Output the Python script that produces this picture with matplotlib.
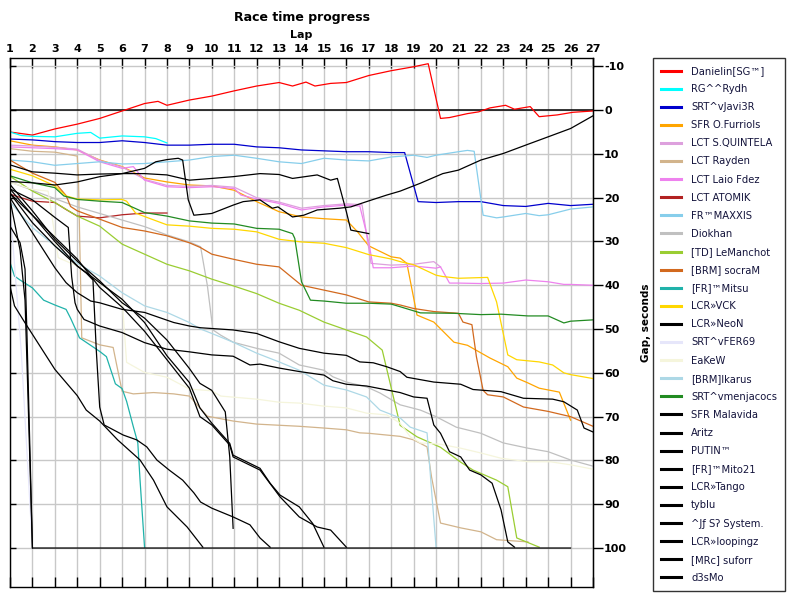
import matplotlib
matplotlib.use("Agg")
import matplotlib.pyplot as plt

# axes values
lap_ticks = list(range(1, 28))
gap_ticks = list(range(-10, 101, 10))

# gap to leader (seconds) per lap
danielin_laps = [1, 2, 3, 4, 5, 6, 7, 7.6, 8, 9, 10, 11, 12, 13, 13.6, 14.2, 14.6, 15.3, 16, 17, 18, 19, 19.65,
                 20.2, 20.6, 21.4, 21.9, 22.4, 23.1, 23.5, 24.2, 24.6, 25.4, 26.1, 27]
danielin_gap = [5, 5.7, 4.3, 3.2, 1.9, 0.2, -1.5, -2.0, -1.1, -2.3, -3.2, -4.4, -5.5, -6.3, -5.5, -6.4, -5.5, -6.1,
                -6.3, -7.9, -9.0, -9.9, -10.6, 1.9, 1.7, 0.8, 0.4, -0.5, -1.1, -0.2, -0.8, 1.5, 1.1, 0.5, 0.2]

rydh_laps = [1, 1.5, 2, 3, 4, 4.6, 5, 6, 7, 7.5, 8]
rydh_gap = [5, 5.8, 6, 6.1, 5.3, 5.1, 6.4, 5.9, 6.1, 6.5, 7.5]

javi_laps = [1, 2, 3, 4, 5, 6, 7, 8, 9, 10, 11, 12, 13, 14, 15, 16, 17, 18, 18.6, 19.2, 20, 21, 22, 23, 24, 25,
             26, 27]
javi_gap = [6.6, 6.8, 7.2, 7.4, 7.4, 7.0, 7.4, 8.0, 8.0, 7.8, 7.8, 8.4, 8.6, 9.1, 9.3, 9.5, 9.5, 9.7, 9.7, 20.9,
            21.1, 20.9, 20.9, 21.8, 22.0, 21.3, 21.8, 21.5]

furriols_laps = [1, 2, 3, 4, 5, 6, 7, 8, 9, 10, 11, 12, 13, 14, 15, 16, 16.5, 17, 18, 18.4, 18.7, 19.15, 19.9,
                 20.8, 21.4, 22.4, 23.2, 23.6, 24.1, 24.6, 25.5, 26]
furriols_gap = [7, 8, 8.4, 9.1, 11.4, 12.9, 15.5, 16.4, 17.1, 17.3, 18.3, 20.9, 23.2, 24.4, 24.8, 25.1, 27.8, 31,
                33.5, 33.8, 35, 46.8, 48.4, 53, 53.7, 56.6, 58.6, 61.2, 62.3, 63.5, 64.4, 70.8]

quintela_laps = [1, 2, 3, 4, 5, 6, 7, 8, 9, 10, 11, 12, 13, 14, 15, 16, 16.7, 17.1, 18, 19, 19.9, 20.2]
quintela_gap = [8.0, 8.2, 8.5, 8.9, 11.5, 13.0, 15.8, 17.2, 17.4, 17.2, 17.6, 20.0, 21.0, 22.4, 21.8, 21.4, 21.6,
                35.0, 35.4, 35.2, 34.6, 35.8]

rayden_laps = [1, 2, 3, 4, 4.05, 4.2, 5, 5.6, 5.75, 6, 6.5, 7.4, 8.3, 9, 9.8, 10.95, 12, 13.9, 15, 16, 16.6, 17,
               18.4, 19, 19.6, 19.8, 20.2, 21.1, 22, 22.7, 24.1]
rayden_gap = [8.8, 9.4, 9.6, 10.5, 15, 52, 53.6, 54.2, 58, 64.2, 64.8, 64.5, 64.8, 65.3, 69.9, 71, 71.7, 72.2,
              72.6, 73, 73.7, 73.8, 74.5, 75.3, 76.9, 83.8, 94.3, 95.4, 96.3, 98.1, 98.6]

laio_laps = [1, 2, 3, 4, 5, 6, 6.5, 7, 8, 9, 10, 11, 11.3, 12, 13, 14, 15, 16, 16.6, 17, 17.2, 18, 19, 20, 20.2,
             20.6, 21, 22, 23, 24, 25, 25.7, 26, 27]
laio_gap = [8.4, 8.6, 8.8, 9.1, 11.8, 13.3, 12.9, 16, 17.5, 17.7, 17.5, 17.9, 19.4, 20.3, 21.3, 22.8, 22.1, 21.7,
            21.9, 30.2, 36, 36, 35.6, 36.1, 35.8, 39.5, 39.5, 39.6, 39.5, 38.8, 39.2, 39.8, 39.8, 40]

atomik_laps = [1, 2, 3, 3.5, 4, 5, 6, 7, 8]
atomik_gap = [19.2, 20.8, 21.1, 22.7, 24.2, 24.6, 23.9, 23.5, 23.5]

maxxis_laps = [1, 2, 3, 4, 5, 6, 7, 8, 9, 10, 11, 12, 13, 14, 15, 16, 17, 18, 19, 19.6, 20, 21, 21.4, 21.7, 22.1,
               22.7, 23, 24, 24.6, 25, 26, 27]
maxxis_gap = [11.4, 11.8, 12.6, 12.2, 11.8, 12.3, 12.2, 11.8, 11.4, 10.6, 10.3, 11, 11.8, 12.2, 11, 11.4, 11.6,
              10.7, 10.3, 10.8, 10.3, 9.5, 9.2, 9.4, 24, 24.6, 24.4, 23.6, 24.1, 23.9, 22.6, 22.1]

diokhan_laps = [1, 2, 3, 4, 5, 6, 7, 8, 9, 9.5, 9.8, 10.05, 10.4, 10.95, 12, 13, 13.9, 15, 15.4, 16, 16.9, 17.5,
                18.4, 19.3, 20, 20.9, 22, 23, 24.1, 25, 26, 27]
diokhan_gap = [16.4, 18.3, 20.2, 22.1, 23.6, 25.1, 26.6, 28.5, 30.1, 31.2, 40, 50.2, 51.4, 53, 54.4, 55.5, 58.2,
               59.4, 60.9, 62.1, 63.2, 64.6, 67.3, 68.5, 70, 72.4, 73.8, 76, 77.2, 78, 79.9, 81.3]

lemanchot_laps = [1, 2, 3, 4, 5, 6, 7, 8, 9, 10, 11, 12, 13, 13.9, 15, 16, 16.9, 17.6, 18.4, 19.15, 20.2, 21.1,
                  21.65, 22.7, 23.2, 23.6, 24.6]
lemanchot_gap = [15.1, 18.5, 21.1, 24.2, 26.5, 30.6, 32.9, 35.2, 36.7, 38.6, 40.2, 41.9, 44.1, 45.7, 48.4, 50.2,
                 51.8, 54.8, 72, 74.6, 77, 80.4, 82.2, 84.5, 86, 97.7, 99.8]

socram_laps = [1, 2, 3, 3.5, 3.7, 4, 5, 6, 7, 8, 9, 9.5, 10, 11, 12, 13, 14, 15, 16, 17, 18, 18.4, 19, 19.9, 21,
               21.2, 21.6, 21.8, 22.1, 22.3, 23, 23.9, 25, 26, 27]
socram_gap = [11.4, 14.4, 16.5, 19.5, 22, 23, 24.9, 26.8, 27.6, 28.7, 30.3, 31.4, 32.9, 34.1, 35.2, 35.8, 40, 41.1,
              42.2, 43.8, 44.1, 44.5, 45.3, 46, 46.4, 48.4, 49, 56.3, 64, 65, 65.5, 67.8, 68.8, 70, 72.2]

mitsu_laps = [1, 1.2, 1.45, 2, 2.5, 3, 3.5, 3.7, 4.1, 5, 5.3, 5.7, 6, 6.2, 6.5, 6.7, 6.8, 7.0]
mitsu_gap = [34.8, 37.9, 38.8, 40.6, 43.4, 44.5, 45.5, 47.5, 52, 55.1, 56.3, 62.5, 63.6, 66.5, 72.3, 76, 84.5, 99.8]

vck_laps = [1, 2, 3, 3.5, 4, 5, 6, 6.2, 6.6, 7, 8, 9, 10, 11, 12, 13, 14, 15, 16, 17, 18, 18.4, 19, 20, 20.3, 21,
            22.3, 22.7, 23.2, 23.6, 24.6, 25.2, 25.7, 26, 27]
vck_gap = [13.5, 15, 17.3, 19.6, 20.3, 20.5, 20.4, 20.8, 23.5, 24.3, 26.2, 26.5, 27, 27.2, 27.8, 29.5, 30.1, 30.4,
           31.4, 33, 34, 34.6, 35.3, 37.7, 38, 38.4, 38.2, 43.8, 55.9, 57, 57.5, 58.2, 60, 60.4, 61.3]

neon_laps = [1, 2, 3, 4, 5, 6, 7, 8, 9, 10, 10.95, 12.15, 13, 13.6, 14.7, 15.3, 15.6, 16, 16.2, 17]
neon_gap = [12.5, 14.1, 14.4, 14.8, 14.6, 14.5, 14.5, 14.8, 16, 15.6, 15.2, 14.5, 14.7, 15.6, 14.8, 16, 15.6, 23.2,
            27.4, 28.2]

fer69_laps = [1, 1.5, 2]
fer69_gap = [22, 55, 100]

eakew_laps = [1, 2, 2.7, 3.15, 4, 5, 6, 6.2, 7, 8, 9, 10, 10.4, 12, 13, 13.9, 15, 16, 16.9, 17.8, 18.4, 18.85, 19.3,
              20.2, 21.1, 22, 22.9, 24.1, 25.1, 26, 27]
eakew_gap = [16.5, 18.1, 18.5, 33.7, 35.6, 39.5, 43.2, 57.6, 59.9, 61, 63.7, 64.1, 65.3, 66, 66.7, 66.9, 67.6, 68,
             69.2, 69.6, 71.5, 74.6, 76, 76.3, 77.2, 78.3, 79.5, 80.3, 80.3, 81, 82]

ikarus_laps = [1, 2, 3, 4, 5, 6, 7, 8, 9, 9.5, 10, 10.95, 12, 13, 13.9, 15, 16, 16.9, 17.5, 18.4, 18.85, 19.6, 19.8,
               20]
ikarus_gap = [21, 26.8, 31, 35, 37.9, 41.7, 44.7, 46.2, 48.5, 50, 51, 53, 55.5, 57.5, 59.4, 62.8, 63.9, 65.5, 68.5,
              70.3, 72.4, 73.7, 86.8, 99.8]

menjacocs_laps = [1, 2, 3, 3.4, 4, 5, 6, 7, 8, 9, 10, 11, 12, 13, 13.6, 13.7, 14, 14.4, 15, 16, 17, 18, 18.4, 19.3,
                  20.8, 22, 22.9, 24.1, 25, 25.7, 26, 27]
menjacocs_gap = [15, 16.6, 17.7, 19.6, 20.4, 20.8, 21.1, 23.4, 24.2, 25.3, 25.8, 26, 27, 27.2, 28.2, 29.3, 39.2,
                 43.4, 43.6, 44.1, 44.1, 44.3, 44.9, 46.3, 46.4, 46.7, 46.6, 47, 47, 48.6, 48.2, 47.9]

malavida_laps = [1, 2, 3, 4, 5, 6, 7, 7.5, 8, 8.5, 8.7, 8.95, 9.2, 10, 10.4, 10.95, 11.4, 12.15, 12.7, 12.95, 13.6,
                 14.1, 14.7, 15.7, 16.2, 16.9, 17.8, 18.4, 19.3, 20.3, 21, 22, 23, 24.1, 25, 26, 27]
malavida_gap = [16.3, 16.6, 17.1, 16.4, 15.2, 14.5, 13.3, 11.8, 11.3, 11, 11.4, 20.5, 24, 23.6, 22.8, 21.7, 20.9,
                20.5, 22.4, 22.1, 24.4, 24, 22.8, 22.4, 22.1, 20.9, 19.4, 18.5, 16.7, 14.5, 13.7, 11.4, 9.9, 7.8,
                6.1, 4.2, 1.3]

aritz_laps = [1, 2, 3, 3.5, 4, 4.6, 5, 6, 7, 8.3, 9, 9.5, 10.95, 12, 13, 13.9, 15, 16, 16.6, 17.2, 17.8, 18.4,
              18.7, 19.9, 21.1, 21.65, 22.9, 23.9, 25.2, 25.7, 26.3, 26.6, 27]
aritz_gap = [20, 28, 36, 39.4, 41.7, 43.6, 44, 45.5, 46.2, 48.5, 49.3, 49.7, 50.2, 51, 52.9, 54.4, 55.5, 56, 57.5,
             57.7, 58.6, 59.7, 61, 62.1, 62.6, 63.8, 64.3, 65.8, 66, 66.6, 68.5, 72.6, 73.5]

putin_laps = [1, 2, 3, 3.6, 3.75, 3.9, 4, 4.3, 5, 6, 7, 8, 9, 10, 10.95, 11.7, 12.15, 13, 13.9, 15, 15.4, 16, 16.9,
              17.8, 18.4, 19, 19.6, 19.9, 20.2, 20.6, 21.1, 21.5, 22, 22.5, 22.9, 23.2, 23.5]
putin_gap = [18, 20.5, 24.5, 26.8, 38, 44, 45.5, 47.8, 49.3, 50.8, 53.1, 54.6, 55.2, 55.9, 56.2, 58.2, 58, 58.9,
             59.7, 60.5, 61.8, 62.6, 63, 63.9, 64.5, 65.5, 65.8, 71.9, 73.8, 78, 79.2, 82.2, 83.3, 85.2, 91.3,
             98.6, 99.8]

mito_laps = [1, 2, 3, 4, 5, 6, 7, 8, 9, 9.47, 10, 10.6, 10.8, 10.95]
mito_gap = [17, 23, 29.5, 34.5, 39, 44, 47.5, 52.5, 59, 62.4, 64, 68.9, 79.2, 95.5]

tango_laps = [1, 2, 3, 4, 5, 6, 7, 8, 9, 9.47, 10, 10.8, 10.95, 12.15, 12.6, 13.04, 13.9, 14.5, 15]
tango_gap = [19, 25.7, 31, 35.6, 39.4, 43.2, 48.5, 56.1, 62.2, 68, 71.5, 76.1, 78.8, 81.8, 85.2, 87.9, 90.6, 94.4,
             99.8]

tyblu_laps = [1, 2, 3, 4, 5, 6, 7, 8, 9, 9.47, 10, 10.8, 10.95, 12.15, 13.04, 13.9, 14.7, 15.3, 16]
tyblu_gap = [18, 24, 29, 34, 40.5, 45, 50.5, 57, 63.5, 70, 71.9, 76.5, 79.2, 82.2, 88.3, 92.9, 95.2, 95.9, 99.8]

system_laps = [1, 2, 3, 4, 4.4, 4.7, 4.85, 5.0, 5.2, 6.05, 6.65, 7.1, 7.55, 8.1, 8.7, 9.2, 9.5, 10, 10.95, 11.7,
               12.15, 12.6]
system_gap = [19, 24, 30, 35.6, 37.2, 38.8, 55, 67.8, 71.9, 74.2, 75.3, 76.9, 79.9, 82.2, 84.5, 87.4, 89.5, 90.9,
              92.9, 94.7, 97.7, 99.8]

loopingz_laps = [1, 1.2, 1.66, 2.05, 3, 4, 4.4, 5, 5.8, 6.8, 7.4, 8, 8.9, 9.6]
loopingz_gap = [40.2, 44.7, 48.5, 51.6, 59.2, 65.2, 68.5, 71, 75.3, 79.9, 84.5, 90.6, 95.2, 99.8]

suforr_laps = [1, 1.45, 1.67, 1.75, 1.9, 2]
suforr_gap = [26.5, 30.3, 36.3, 50, 80, 100]

d3smo_laps = [1, 1.45, 1.67, 1.8, 2, 26]
d3smo_gap = [20.5, 32, 43.4, 65, 100, 100]

series = [
    ("Danielin[SG™]", "#ff0000", danielin_laps, danielin_gap),
    ("RG^^Rydh", "#00ffff", rydh_laps, rydh_gap),
    ("SRT^vJavi3R", "#0000cd", javi_laps, javi_gap),
    ("SFR O.Furriols", "#ffa500", furriols_laps, furriols_gap),
    ("LCT S.QUINTELA", "#dda0dd", quintela_laps, quintela_gap),
    ("LCT Rayden", "#d2b48c", rayden_laps, rayden_gap),
    ("LCT Laio Fdez", "#ee82ee", laio_laps, laio_gap),
    ("LCT ATOMIK", "#b22222", atomik_laps, atomik_gap),
    ("FR™MAXXIS", "#87ceeb", maxxis_laps, maxxis_gap),
    ("Diokhan", "#c0c0c0", diokhan_laps, diokhan_gap),
    ("[TD] LeManchot", "#9acd32", lemanchot_laps, lemanchot_gap),
    ("[BRM] socraM", "#d2691e", socram_laps, socram_gap),
    ("[FR]™Mitsu", "#20b2aa", mitsu_laps, mitsu_gap),
    ("LCR»VCK", "#ffd700", vck_laps, vck_gap),
    ("LCR»NeoN", "#000000", neon_laps, neon_gap),
    ("SRT^vFER69", "#e6e6fa", fer69_laps, fer69_gap),
    ("EaKeW", "#f5f5dc", eakew_laps, eakew_gap),
    ("[BRM]Ikarus", "#add8e6", ikarus_laps, ikarus_gap),
    ("SRT^vmenjacocs", "#228b22", menjacocs_laps, menjacocs_gap),
    ("SFR Malavida", "#000000", malavida_laps, malavida_gap),
    ("Aritz", "#000000", aritz_laps, aritz_gap),
    ("PUTIN™", "#000000", putin_laps, putin_gap),
    ("[FR]™Mito21", "#000000", mito_laps, mito_gap),
    ("LCR»Tango", "#000000", tango_laps, tango_gap),
    ("tyblu", "#000000", tyblu_laps, tyblu_gap),
    ("^Jƒ Sʔ System.", "#000000", system_laps, system_gap),
    ("LCR»loopingz", "#000000", loopingz_laps, loopingz_gap),
    ("[MRc] suforr", "#000000", suforr_laps, suforr_gap),
    ("d3sMo", "#000000", d3smo_laps, d3smo_gap),
]

W, H = 800, 600
fig = plt.figure(figsize=(W / 100, H / 100), dpi=100)
ax = fig.add_axes([10 / W, 13 / H, 583 / W, 529 / H])

handles = []
for name, color, x, y in series:
    ln, = ax.plot(x, y, color=color, lw=0.9, label=name)
    handles.append(ln)

ax.axhline(0, color="black", lw=1.1, zorder=1)

ax.set_xlim(1, 27)
ax.set_ylim(108.9, -11.9)
ax.set_xticks(lap_ticks)
ax.set_yticks(gap_ticks)
ax.grid(True, color="#c8c8c8", lw=1.0, zorder=0)
ax.set_axisbelow(True)

ax.xaxis.tick_top()
ax.tick_params(axis="x", top=True, bottom=True, labeltop=True, labelbottom=False,
               direction="in", length=7, width=1, pad=3, labelsize=8)
ax.tick_params(axis="y", left=True, right=False, labelleft=False, direction="in", length=4, width=1)
for lbl in ax.get_xticklabels():
    lbl.set_fontweight("bold")
for sp in ax.spines.values():
    sp.set_linewidth(1.0)

sec = ax.secondary_yaxis("right")
sec.set_yticks(gap_ticks)
sec.set_yticklabels([str(v) for v in gap_ticks], fontweight="bold", fontsize=8)
sec.tick_params(direction="out", length=7, width=1, pad=1)
sec.set_ylabel("Gap, seconds", fontsize=7.5, fontweight="bold", rotation=90, labelpad=10)

fig.text(301.5 / W, 1 - 17 / H, "Race time progress", ha="center", va="center",
         fontsize=9, fontweight="bold")
fig.text(301.5 / W, 1 - 35 / H, "Lap", ha="center", va="center", fontsize=8, fontweight="bold")

leg = ax.legend(handles=handles, loc="upper left", bbox_to_anchor=(653 / W, 1 - 58 / H),
                bbox_transform=fig.transFigure, frameon=True, fancybox=False, edgecolor="black",
                fontsize=7.2, labelspacing=0.81, handlelength=2.0, handletextpad=1.0,
                borderpad=0.8, borderaxespad=0)
leg.get_frame().set_linewidth(1.0)
for ln in leg.get_lines():
    ln.set_linewidth(2.2)
for t in leg.get_texts():
    t.set_color("#14143c")

fig.savefig("out.png", dpi=100)
